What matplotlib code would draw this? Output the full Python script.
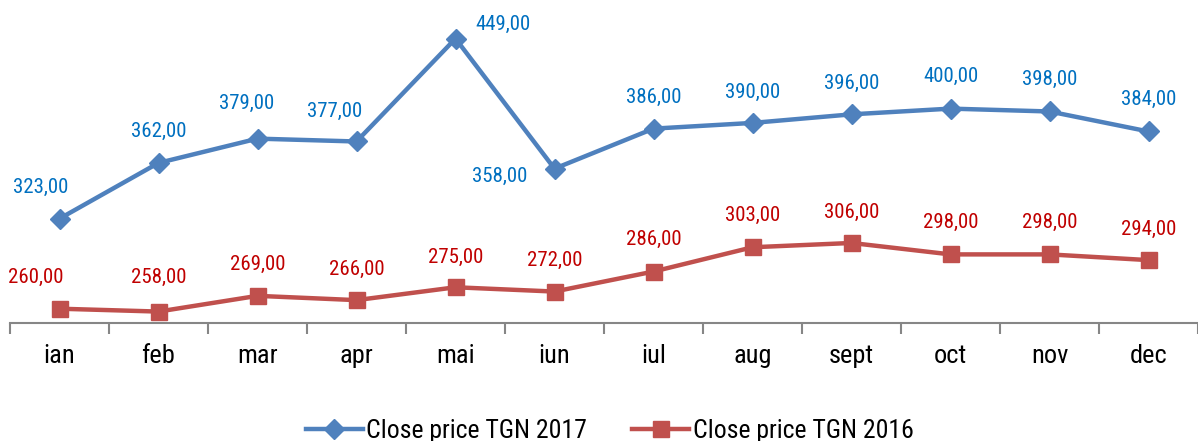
import matplotlib.pyplot as plt
import numpy as np

plt.rcParams['font.family'] = ['Roboto Condensed', 'Liberation Sans', 'DejaVu Sans']

months = ['ian', 'feb', 'mar', 'apr', 'mai', 'iun', 'iul', 'aug', 'sept', 'oct', 'nov', 'dec']
price_2017 = [323, 362, 379, 377, 449, 358, 386, 390, 396, 400, 398, 384]
price_2016 = [260, 258, 269, 266, 275, 272, 286, 303, 306, 298, 298, 294]

# label offsets in pixels (dx, dy) relative to each point
off_2017 = [(-19, 31), (0, 32), (-11, 35), (-22, 30), (47, 14), (-55, -8),
            (0, 31), (0, 31), (0, 31), (0, 32), (0, 32), (0, 32)]
off_2016 = [(-24, 31), (0, 34), (0, 31), (0, 31), (0, 30), (0, 31),
            (0, 32), (0, 32), (0, 31), (0, 32), (0, 32), (0, 31)]

blue = '#4F81BD'
red = '#C0504D'
blue_txt = '#0070C0'
red_txt = '#C00000'

fig = plt.figure(figsize=(11.98, 4.41), dpi=100)
ax = fig.add_axes([10 / 1198, 1 - 323 / 441, 1188 / 1198, 323 / 441])

x = np.arange(len(months))
ax.plot(x, price_2017, color=blue, lw=3.2, marker='D', ms=10.5, label='Close price TGN 2017', zorder=3)
ax.plot(x, price_2016, color=red, lw=3.2, marker='s', ms=11, label='Close price TGN 2016', zorder=3)

for i, v in enumerate(price_2017):
    ax.annotate(f'{v:.2f}'.replace('.', ','), (x[i], v), xytext=off_2017[i],
                textcoords='offset pixels', ha='center', va='center',
                color=blue_txt, fontsize=15)
for i, v in enumerate(price_2016):
    ax.annotate(f'{v:.2f}'.replace('.', ','), (x[i], v), xytext=off_2016[i],
                textcoords='offset pixels', ha='center', va='center',
                color=red_txt, fontsize=15)

ax.set_xlim(-0.5, len(months) - 0.5)
ax.set_ylim(250, 476)

for s in ['top', 'right', 'left']:
    ax.spines[s].set_visible(False)
ax.spines['bottom'].set_color('#868686')
ax.spines['bottom'].set_linewidth(1.5)
ax.set_yticks([])

ax.set_xticks(x)
ax.set_xticklabels(months, fontsize=19)
ax.tick_params(axis='x', which='major', length=0, pad=15)
ax.set_xticks(np.arange(-0.5, len(months), 1), minor=True)
ax.tick_params(axis='x', which='minor', length=8, width=1.5, color='#868686', direction='out')

fig.legend(loc='center', bbox_to_anchor=(0.509, 0.022), ncol=2, frameon=False,
           fontsize=18.5, handlelength=2.2, handletextpad=0.15, columnspacing=1.75)

fig.savefig('out.png', dpi=100)
